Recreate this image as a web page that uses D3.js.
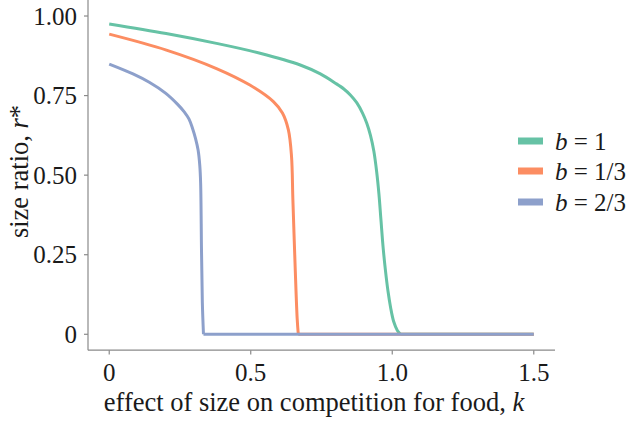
<!DOCTYPE html>
<html><head><meta charset="utf-8">
<script src="https://cdn.jsdelivr.net/npm/d3@7"></script>
<style>body{margin:0;background:#fff}svg{display:block}</style>
</head><body>
<svg id="c" width="626" height="421"></svg>
<script>
const seriesNames = ["b = 1", "b = 1/3", "b = 2/3"];
const seriesLabels = ["1", "1/3", "2/3"];
const seriesColors = ["#66c2a5", "#fc8d62", "#8da0cb"];
const kGreen = [0, 0.201, 0.379, 0.533, 0.675, 0.746, 0.799, 0.83, 0.852, 0.875, 0.895, 0.91, 0.923, 0.935, 0.945, 0.953, 0.96, 0.968, 0.976, 0.985, 0.994, 1.005, 1.018, 1.029, 1.5];
const rGreen = [0.975, 0.945, 0.914, 0.883, 0.846, 0.818, 0.789, 0.77, 0.752, 0.727, 0.695, 0.663, 0.625, 0.575, 0.51, 0.44, 0.36, 0.27, 0.2, 0.135, 0.085, 0.04, 0.012, 0, 0];
const kOrange = [0, 0.202, 0.379, 0.497, 0.58, 0.612, 0.633, 0.644, 0.649, 0.657, 0.664, 0.668, 1.5];
const rOrange = [0.943, 0.893, 0.835, 0.783, 0.731, 0.695, 0.642, 0.56, 0.42, 0.21, 0.05, 0, 0];
const kBlue = [0, 0.084, 0.143, 0.2, 0.24, 0.265, 0.282, 0.295, 0.305, 0.314, 0.32, 0.323, 0.326, 0.329, 0.333, 1.5];
const rBlue = [0.849, 0.818, 0.791, 0.757, 0.724, 0.699, 0.676, 0.645, 0.615, 0.579, 0.53, 0.474, 0.265, 0.1, 0, 0];
const xTicks = [0, 0.5, 1.0, 1.5];
const xTickLabels = ["0", "0.5", "1.0", "1.5"];
const yTicks = [0, 0.25, 0.5, 0.75, 1.0];
const yTickLabels = ["0", "0.25", "0.50", "0.75", "1.00"];

const series = [
  {k: kGreen, r: rGreen},
  {k: kOrange, r: rOrange},
  {k: kBlue, r: rBlue}
];

const svg = d3.select("#c");
const font = "'Liberation Serif', 'Times New Roman', serif";
const axisColor = "#8a8a8a";

const x = d3.scaleLinear().domain([-0.075, 1.575]).range([88, 555]);
const y = d3.scaleLinear().domain([-0.05, 1.05]).range([350.2, 0.1]);

svg.append("line").attr("x1", 88).attr("x2", 88).attr("y1", y(1.05)).attr("y2", y(-0.05))
  .attr("stroke", axisColor).attr("stroke-width", 1.2);
svg.append("line").attr("x1", 88).attr("x2", 555).attr("y1", y(-0.05)).attr("y2", y(-0.05))
  .attr("stroke", axisColor).attr("stroke-width", 1.2);

yTicks.forEach((t, i) => {
  svg.append("line").attr("x1", 84).attr("x2", 88).attr("y1", y(t)).attr("y2", y(t))
    .attr("stroke", axisColor).attr("stroke-width", 1.2);
  svg.append("text").attr("x", 77).attr("y", y(t)).attr("dy", "0.35em")
    .attr("text-anchor", "end").attr("font-family", font).attr("font-size", 25)
    .attr("fill", "#1a1a1a").text(yTickLabels[i]);
});
xTicks.forEach((t, i) => {
  svg.append("line").attr("x1", x(t)).attr("x2", x(t)).attr("y1", 350.2).attr("y2", 354.5)
    .attr("stroke", axisColor).attr("stroke-width", 1.2);
  svg.append("text").attr("x", x(t)).attr("y", 381)
    .attr("text-anchor", "middle").attr("font-family", font).attr("font-size", 25)
    .attr("fill", "#1a1a1a").text(xTickLabels[i]);
});

const xt = svg.append("text").attr("x", 314).attr("y", 411).attr("text-anchor", "middle")
  .attr("font-family", font).attr("font-size", 26.5).attr("fill", "#1a1a1a");
xt.append("tspan").text("effect of size on competition for food, ");
xt.append("tspan").attr("font-style", "italic").text("k");

const yt = svg.append("text").attr("transform", "translate(28,171.5) rotate(-90)")
  .attr("text-anchor", "middle").attr("font-family", font).attr("font-size", 26.5).attr("fill", "#1a1a1a");
yt.append("tspan").text("size ratio, ");
yt.append("tspan").attr("font-style", "italic").text("r");
yt.append("tspan").text("*");

const curved = d3.line().x(d => x(d[0])).y(d => y(d[1])).curve(d3.curveCatmullRom.alpha(0.5));
const straight = d3.line().x(d => x(d[0])).y(d => y(d[1]));
series.forEach((s, i) => {
  const pts = s.k.map((kv, j) => [kv, s.r[j]]);
  const z = s.r.indexOf(0);
  const dropPart = pts.slice(0, z + 1);
  const flatPart = pts.slice(z);
  const g = svg.append("g").attr("fill", "none").attr("stroke", seriesColors[i])
    .attr("stroke-width", 3).attr("stroke-linejoin", "round");
  g.append("path").attr("d", curved(dropPart));
  g.append("path").attr("d", straight(flatPart));
});

const legY = [141, 171, 202];
seriesNames.forEach((n, i) => {
  svg.append("rect").attr("x", 518).attr("y", legY[i] - 3.5).attr("width", 25).attr("height", 7)
    .attr("fill", seriesColors[i]);
  const t = svg.append("text").attr("x", 555).attr("y", legY[i]).attr("dy", "0.35em")
    .attr("font-family", font).attr("font-size", 25).attr("fill", "#1a1a1a");
  t.append("tspan").attr("font-style", "italic").text("b");
  t.append("tspan").text(" = " + seriesLabels[i]);
});
</script>
</body></html>
